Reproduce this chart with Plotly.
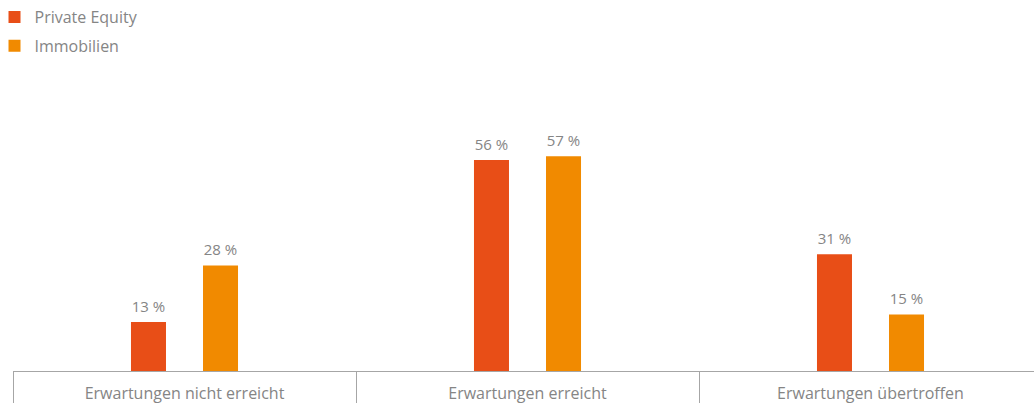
import plotly.graph_objects as go

categories = ["Erwartungen nicht erreicht", "Erwartungen erreicht", "Erwartungen übertroffen"]
private_equity = [13, 56, 31]
immobilien = [28, 57, 15]
series_names = ["Private Equity", "Immobilien"]
colors = ["#E84E17", "#F18A00"]

FONT = "Open Sans"
fig = go.Figure()
for i, (name, vals) in enumerate(zip(series_names, [private_equity, immobilien])):
    fig.add_trace(go.Bar(
        x=categories, y=vals, name=name, marker_color=colors[i], marker_line_width=0,
        offsetgroup=str(i), legendgroup=name, hoverinfo="x+y",
    ))
for i, (name, vals) in enumerate(zip(series_names, [private_equity, immobilien])):
    fig.add_trace(go.Scatter(
        x=categories, y=vals, mode="markers+text", offsetgroup=str(i),
        marker=dict(size=9, color="rgba(0,0,0,0)"),
        text=[f"{v} %" for v in vals], textposition="top center", cliponaxis=False,
        textfont=dict(family=FONT, size=15, color="#858585"),
        showlegend=False, hoverinfo="skip", legendgroup=name,
    ))

W, H = 1034, 407
ml, mr, mt, mb = 13, 0, 145, 36
pw = W - ml - mr
cat_px = 343.0
span = pw / cat_px

fig.update_layout(
    width=W, height=H,
    margin=dict(l=ml, r=mr, t=mt, b=mb, pad=0),
    paper_bgcolor="white", plot_bgcolor="white",
    barmode="group", scattermode="group", bargap=0.58, bargroupgap=0.514,
    showlegend=True,
    legend=dict(x=-ml / pw + 0.0005, y=1 + mt / (H - mt - mb), xanchor="left", yanchor="top",
                orientation="v", traceorder="grouped", tracegroupgap=5,
                font=dict(family=FONT, size=16, color="#858585"), bgcolor="rgba(0,0,0,0)",
                indentation=-6),
    xaxis=dict(range=[-0.5, -0.5 + span], showgrid=False, showline=True, linecolor="#a6a6a6", linewidth=1,
               ticks="outside", tickson="boundaries", ticklen=31, tickcolor="#a6a6a6", tickwidth=1,
               ticklabelstandoff=8,
               tickfont=dict(family=FONT, size=16, color="#858585"), zeroline=False),
    yaxis=dict(range=[0, 60], visible=False, showgrid=False, zeroline=False),
)

fig.write_html("out.html")
